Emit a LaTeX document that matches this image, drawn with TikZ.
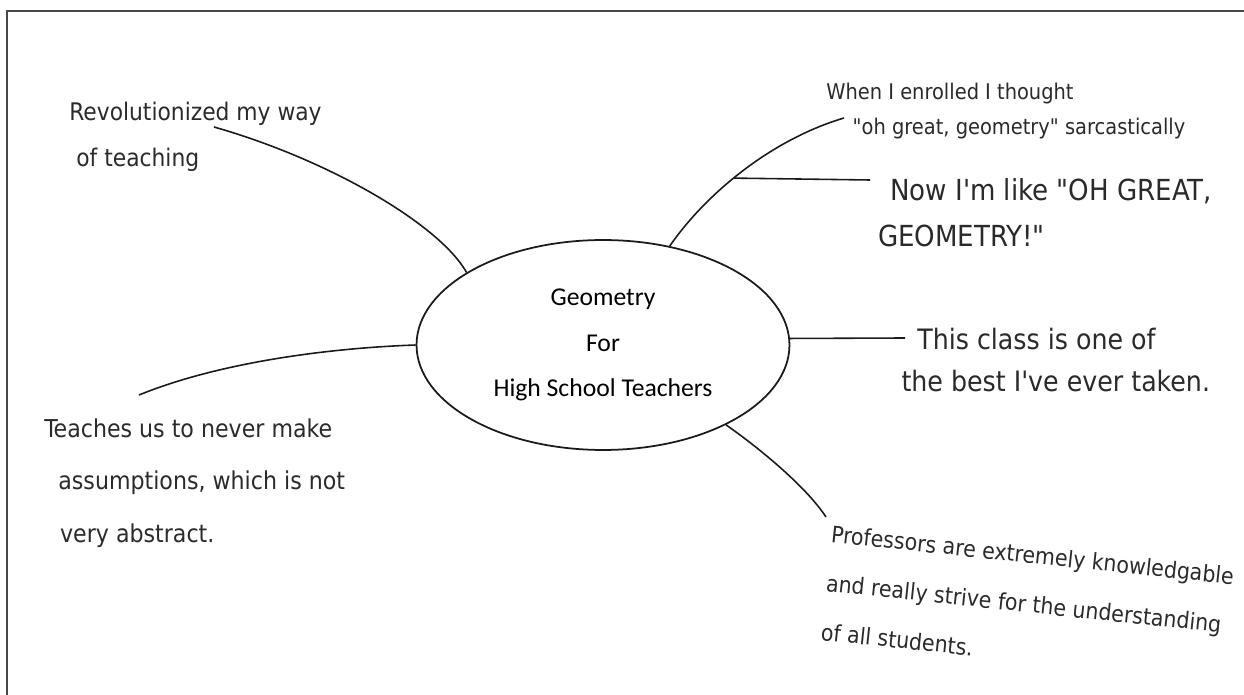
\documentclass[tikz,border=0pt]{standalone}
\usepackage{fontspec}
\usepackage{tikz}
\usetikzlibrary{shapes.geometric}
\newfontfamily\handfont{DejaVu Sans Condensed}
\newfontfamily\boxfont{Carlito}
\definecolor{ink}{HTML}{2A2A2A}
\definecolor{pen}{HTML}{1A1A1A}

\begin{document}
\begin{tikzpicture}[x=0.02cm, y=-0.02cm]
  \tikzset{
    topic/.style={ellipse, draw=pen, line width=1pt, inner sep=0pt,
      minimum width=7.46cm, minimum height=4.2cm, align=center,
      font=\boxfont\fontsize{14.6}{26}\selectfont},
    note/.style 2 args={anchor=base west, align=left, inner sep=0pt, text=ink,
      font=\handfont\fontsize{#1}{#2}\selectfont},
    link/.style={draw=pen, line width=0.9pt}
  }
  \useasboundingbox (0,0) rectangle (1244,695);

  % Okraj stranky
  \draw[pen!80, line width=0.8pt] (7,695) -- (7,11) -- (1244,11);

  % Stred
  \node[topic] (topic) at (603,345) {Geometry\\For\\High School Teachers};

  % Poznamky (kotva = ucaria posledniho radku)
  \node[note={13.8}{26.5}] (rev) at (69,167) {Revolutionized my way\\\hspace*{4pt}of teaching};
  \node[note={12.3}{20}] (when) at (826,135) {When I enrolled I thought\\\hspace*{15pt}"oh great, geometry" sarcastically};
  \node[note={16.5}{26.7}] (now) at (890,247) {Now I'm like "OH GREAT,\\\hspace*{-7pt}GEOMETRY!"};
  \node[note={16}{24}] (best) at (917,392) {This class is one of\\\hspace*{-9pt}the best I've ever taken.};
  \node[note={13}{28}, rotate=-6] (prof) at (820,640) {Professors are extremely knowledgable\\and really strive for the understanding\\of all students.};
  \node[note={14}{29.6}] (teach) at (44,542) {Teaches us to never make\\\hspace*{8pt}assumptions, which is not\\\hspace*{9pt}very abstract.};

  % Volne konce spojnic
  \coordinate (revend) at (214,127);
  \coordinate (whenend) at (844,118);
  \coordinate (nowend) at (870,180);
  \coordinate (bestend) at (905,338);
  \coordinate (profend) at (826,517);
  \coordinate (teachend) at (139,395);

  % Spojnice
  \draw[link] (topic.152) .. controls (440,225) and (330,160) .. (revend);
  \draw[link] (topic.56) .. controls (705,195) and (770,140) .. (whenend) coordinate[pos=0.45] (fork);
  \draw[link] (fork) -- (nowend);
  \draw[link] (topic.2) -- (bestend);
  \draw[link] (topic.-33) .. controls (755,445) and (805,485) .. (profend);
  \draw[link] (topic.west) .. controls (330,348) and (220,362) .. (teachend);
\end{tikzpicture}
\end{document}
